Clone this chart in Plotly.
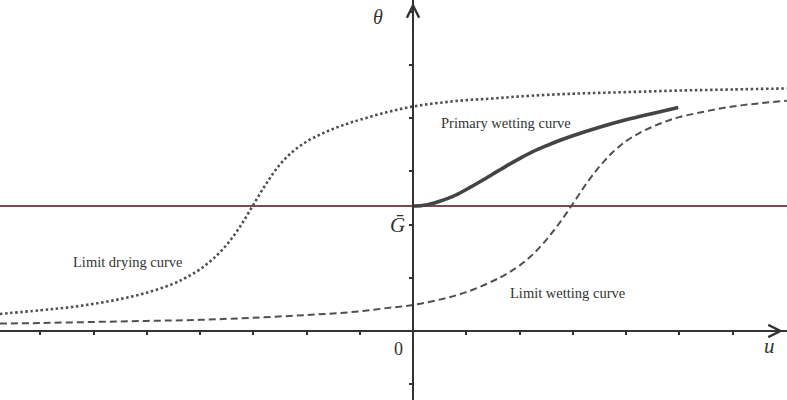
import plotly.graph_objects as go

# ---- data (u, theta) in axis units ----
drying_u = [-7.76, -7.0, -6.5, -6.0, -5.5, -5.0, -4.5, -4.25, -4.0, -3.75, -3.5, -3.25, -3.0,
            -2.75, -2.5, -2.25, -2.0, -1.75, -1.5, -1.25, -1.0, -0.5, 0.0, 0.5, 1.0, 1.5,
            2.0, 3.0, 4.0, 5.0, 6.0, 7.02]
drying_theta = [0.32, 0.39, 0.44, 0.51, 0.60, 0.72, 0.89, 1.01, 1.16, 1.36, 1.62, 1.96, 2.37,
                2.78, 3.13, 3.38, 3.56, 3.69, 3.80, 3.89, 3.97, 4.11, 4.22, 4.29, 4.34, 4.37,
                4.41, 4.46, 4.49, 4.52, 4.54, 4.56]

wetting_u = [-7.76, -7.0, -6.0, -5.0, -4.0, -3.0, -2.0, -1.5, -1.0, -0.5, 0.0, 0.5, 1.0,
             1.5, 1.75, 2.0, 2.25, 2.5, 2.75, 3.0, 3.25, 3.5, 3.75, 4.0, 4.25, 4.5, 4.75,
             5.0, 5.5, 6.0, 6.5, 7.02]
wetting_theta = [0.14, 0.15, 0.17, 0.19, 0.21, 0.25, 0.30, 0.33, 0.37, 0.43, 0.49, 0.59, 0.73,
                 0.94, 1.07, 1.23, 1.44, 1.71, 2.03, 2.39, 2.76, 3.09, 3.36, 3.57, 3.72, 3.84, 3.94,
                 4.02, 4.13, 4.22, 4.28, 4.33]

primary_u = [0.0, 0.25, 0.5, 0.75, 1.0, 1.25, 1.5, 1.75, 2.0, 2.25, 2.5, 2.75, 3.0,
             3.5, 4.0, 4.5, 4.98]
primary_theta = [2.35, 2.37, 2.44, 2.53, 2.66, 2.80, 2.95, 3.10, 3.24, 3.37, 3.48, 3.58, 3.67,
                 3.83, 3.97, 4.09, 4.20]

G_bar = 2.35
x_ticks = [-7, -6, -5, -4, -3, -2, -1, 1, 2, 3, 4, 5, 6]
y_ticks = [-1, 1, 2, 3, 4, 5, 6]

X_RANGE = [-7.756, 7.023]
Y_RANGE = [-1.297, 6.222]

curve_col = "#505050"
axis_col = "#333333"
txt_col = "#333333"
serif = "Liberation Serif"

fig = go.Figure()

fig.add_trace(go.Scatter(x=X_RANGE, y=[G_bar, G_bar], mode="lines",
                         line=dict(color="#7a4c4c", width=2.2), hoverinfo="skip"))
fig.add_trace(go.Scatter(x=drying_u, y=drying_theta, mode="lines",
                         line=dict(color=curve_col, width=2.6, dash="2.5px,2.6px",
                                   shape="spline", smoothing=1.0)))
fig.add_trace(go.Scatter(x=wetting_u, y=wetting_theta, mode="lines",
                         line=dict(color=curve_col, width=2.0, dash="7px,4px",
                                   shape="spline", smoothing=1.0)))
fig.add_trace(go.Scatter(x=primary_u, y=primary_theta, mode="lines",
                         line=dict(color="#444444", width=3.6, shape="spline", smoothing=1.0)))

x_pos = (0 - Y_RANGE[0]) / (Y_RANGE[1] - Y_RANGE[0])
y_pos = (0 - X_RANGE[0]) / (X_RANGE[1] - X_RANGE[0])

fig.update_layout(
    width=787, height=400,
    margin=dict(l=0, r=0, t=0, b=0),
    paper_bgcolor="white", plot_bgcolor="white",
    showlegend=False,
    xaxis=dict(range=X_RANGE, showgrid=False, zeroline=False, showline=True,
               linecolor=axis_col, linewidth=2, anchor="free", position=x_pos,
               ticks="outside", tickvals=x_ticks, ticklen=3, tickwidth=1.5,
               tickcolor=axis_col, showticklabels=False, fixedrange=True),
    yaxis=dict(range=Y_RANGE, showgrid=False, zeroline=False, showline=True,
               linecolor=axis_col, linewidth=2, anchor="free", position=y_pos,
               ticks="outside", tickvals=y_ticks, ticklen=3, tickwidth=1.5,
               tickcolor=axis_col, showticklabels=False, fixedrange=True),
)

# axis arrowheads
fig.add_annotation(x=6.95, y=0, ax=6.5, ay=0, xref="x", yref="y", axref="x", ayref="y",
                   text="", showarrow=True, arrowhead=5, arrowsize=1.2, arrowwidth=2,
                   arrowcolor=axis_col)
fig.add_annotation(x=0, y=6.17, ax=0, ay=5.7, xref="x", yref="y", axref="x", ayref="y",
                   text="", showarrow=True, arrowhead=5, arrowsize=1.2, arrowwidth=2,
                   arrowcolor=axis_col)

labels = [
    (-0.66, 5.90, "<i>θ</i>", 20),
    (-0.30, 1.99, "<i>Ḡ</i>", 21),
    (-0.28, -0.34, "0", 18),
    (6.69, -0.28, "<i>u</i>", 21),
    (1.75, 3.91, "Primary wetting curve", 14.5),
    (-5.35, 1.30, "Limit drying curve", 14.5),
    (2.91, 0.71, "Limit wetting curve", 14.5),
]
for lx, ly, lt, ls in labels:
    fig.add_annotation(x=lx, y=ly, xref="x", yref="y", text=lt, showarrow=False,
                       font=dict(family=serif, size=ls, color=txt_col),
                       xanchor="center", yanchor="middle")

fig.write_html("out.html", config={"displayModeBar": False},
               post_script="document.body.style.margin='0';document.body.style.overflow='hidden';")
